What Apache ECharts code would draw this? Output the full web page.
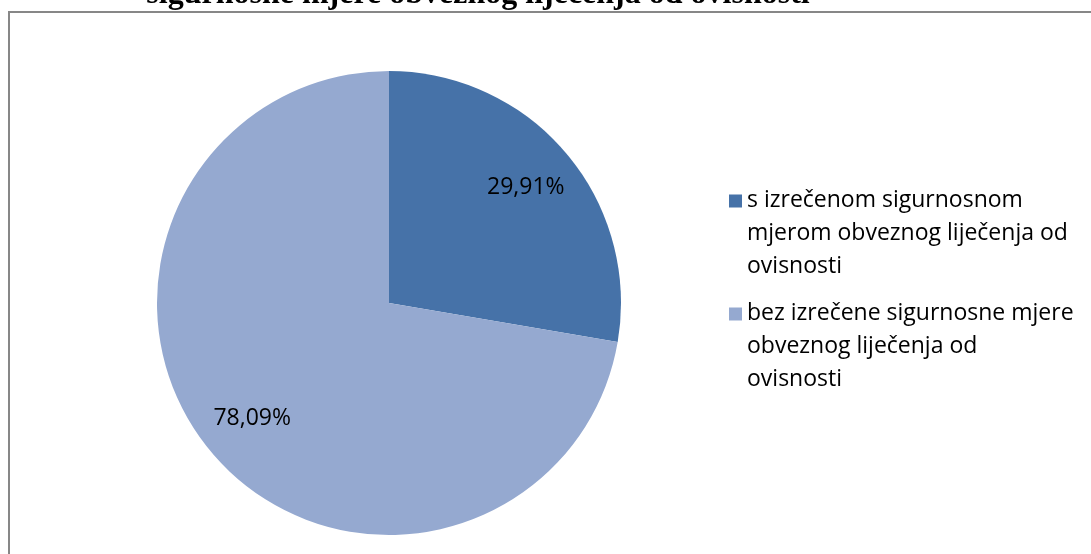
<!DOCTYPE html>
<html>
<head>
<meta charset="utf-8">
<script src="https://cdn.jsdelivr.net/npm/echarts@6/dist/echarts.min.js"></script>
<style>
  html, body { margin: 0; padding: 0; background: #fff; }
  #chart { width: 1091px; height: 554px; }
</style>
</head>
<body>
<div id="chart"></div>
<script>
// podaci s grafikona
const categories = [
  's izrečenom sigurnosnom\nmjerom obveznog liječenja od\novisnosti',
  'bez izrečene sigurnosne mjere\nobveznog liječenja od\novisnosti'
];
const values = [29.91, 78.09];
const labels = ['29,91%', '78,09%'];
const colors = ['#4672a8', '#95a9d0'];

const chart = echarts.init(document.getElementById('chart'));

const pieData = categories.map((name, i) => ({
  name: name,
  value: values[i],
  itemStyle: { color: colors[i] }
}));

// ikona legende: kvadrat uz prvi redak teksta
const legendIcon = 'path://M0,0h13v13h-13z M0,78h0.01v0.01h-0.01z';

const option = {
  animation: false,
  title: {
    text: 'sigurnosne mjere obveznog liječenja od ovisnosti',
    left: 473,
    textAlign: 'center',
    top: -26,
    textStyle: {
      fontFamily: 'Liberation Serif',
      fontWeight: 'bold',
      fontSize: 32,
      color: '#000'
    }
  },
  graphic: [{
    type: 'rect',
    shape: { x: 9, y: 12, width: 1200, height: 700 },
    style: { fill: 'none', stroke: '#878787', lineWidth: 2 },
    z: -1
  }],
  legend: {
    data: categories,
    orient: 'vertical',
    left: 724,
    top: 179,
    itemWidth: 13,
    itemHeight: 78,
    itemGap: 14,
    icon: legendIcon,
    textStyle: {
      fontFamily: 'Open Sans',
      fontSize: 23,
      lineHeight: 33,
      color: '#000'
    }
  },
  series: [
    {
      type: 'pie',
      center: [389, 303],
      radius: [0, 232],
      startAngle: 90,
      clockwise: true,
      label: { show: false },
      labelLine: { show: false },
      emphasis: { disabled: true },
      data: pieData
    },
    {
      // samo oznake, na oko 3/4 polumjera
      type: 'pie',
      center: [389, 303],
      radius: [120, 232],
      startAngle: 90,
      clockwise: true,
      silent: true,
      itemStyle: { color: 'transparent' },
      label: {
        show: true,
        position: 'inside',
        fontFamily: 'Open Sans',
        fontSize: 23,
        color: '#000',
        formatter: p => labels[p.dataIndex]
      },
      labelLine: { show: false },
      emphasis: { disabled: true },
      data: categories.map((name, i) => ({ name: name + ' ', value: values[i] }))
    }
  ]
};

chart.setOption(option);
</script>
</body>
</html>
